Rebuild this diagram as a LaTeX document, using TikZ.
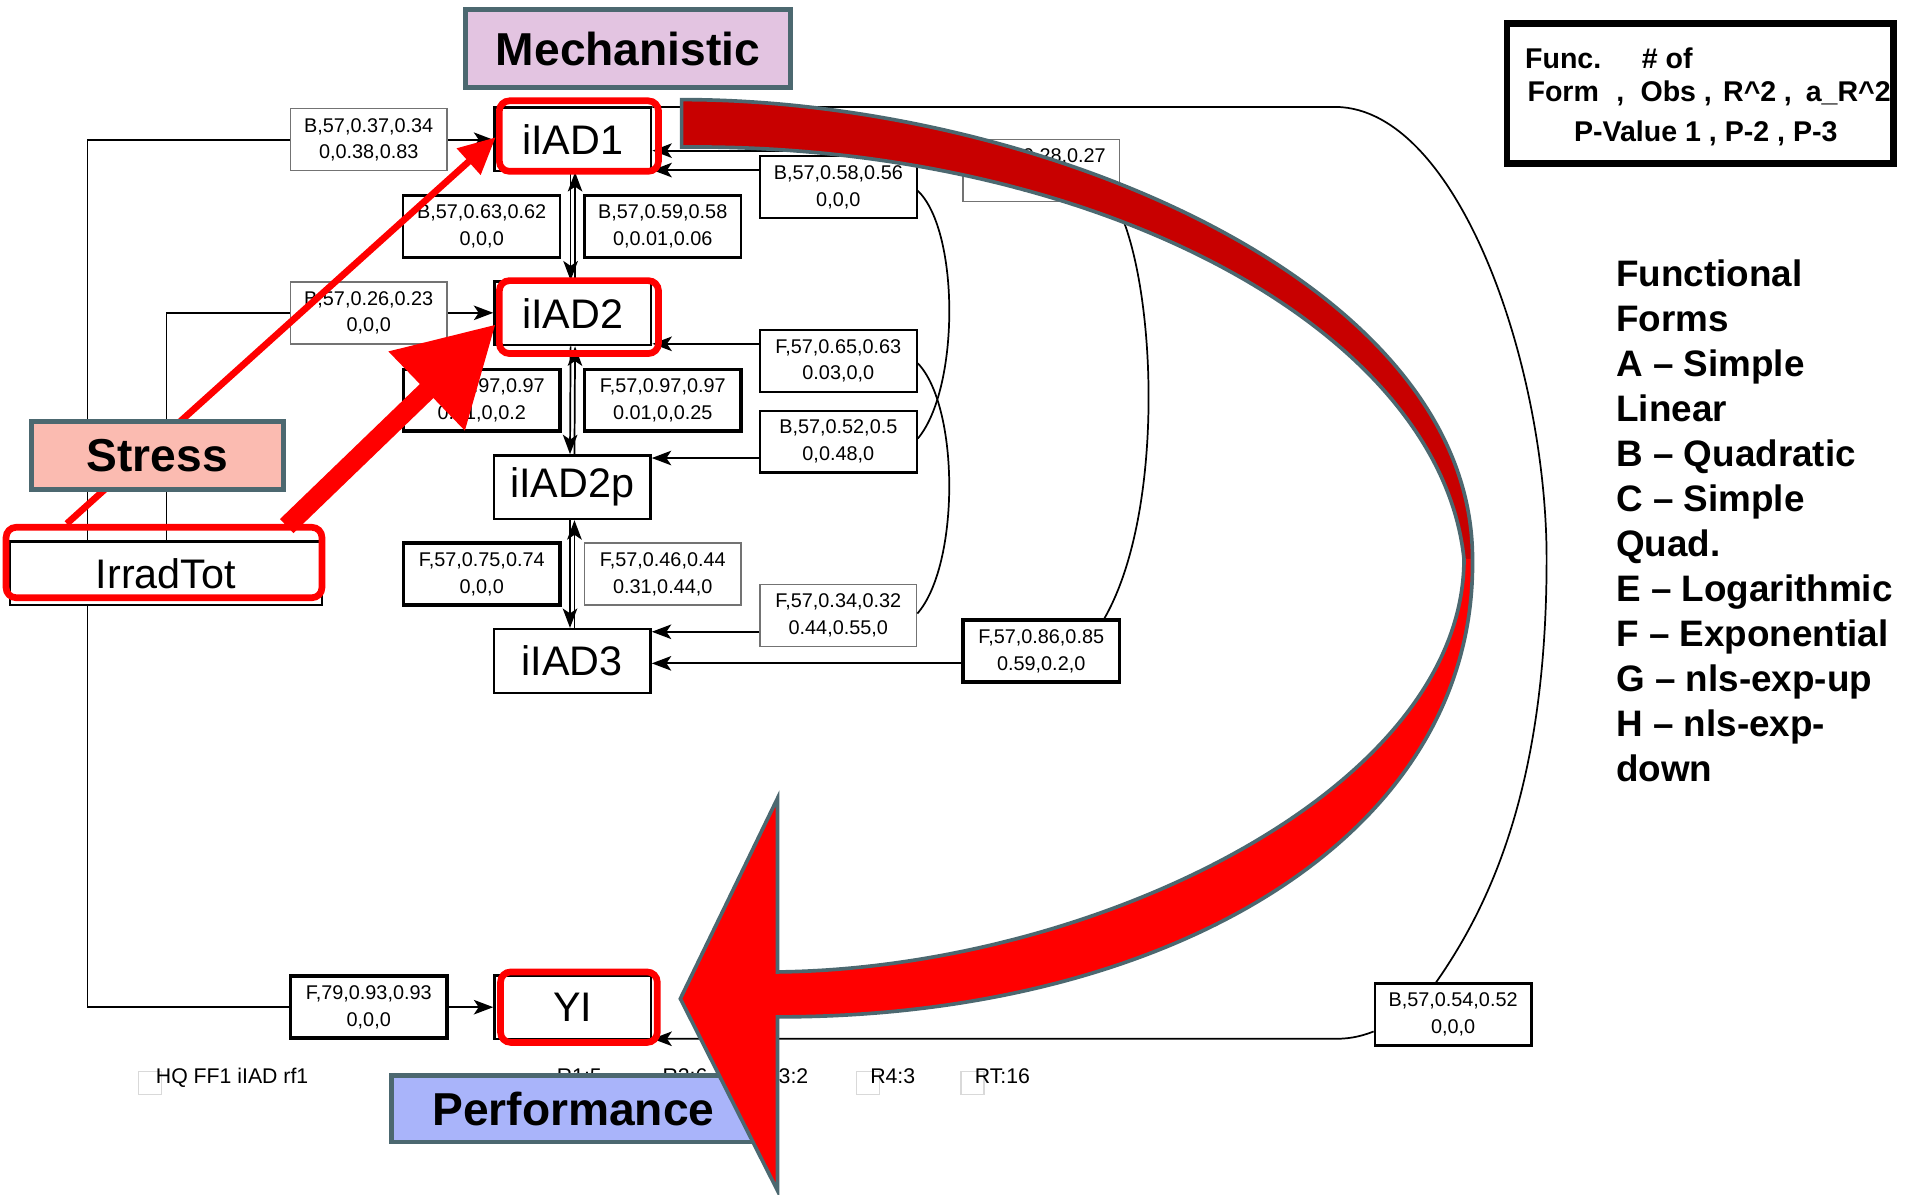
\documentclass[tikz,border=0pt]{standalone}
\usepackage{fontspec}
\setmainfont{Liberation Sans}
\usetikzlibrary{arrows.meta}
\definecolor{slate}{HTML}{4C6870}
\definecolor{mechfill}{HTML}{E3C4E1}
\definecolor{stressfill}{HTML}{FBBBB1}
\definecolor{perffill}{HTML}{A9B4FA}
\definecolor{darkred}{HTML}{C80000}
\definecolor{brightred}{HTML}{FF0000}

\begin{document}
\begin{tikzpicture}[x=0.6pt,y=-0.6pt,
  gvnode/.style={draw, fill=white, line width=1.2pt, inner sep=0pt,
    minimum width=77.4pt, minimum height=31.4pt, font=\fontsize{20.4}{22}\selectfont},
  lblbase/.style={fill=white, inner sep=0pt, minimum width=77.4pt, minimum height=30.6pt,
    align=center, font=\fontsize{9.8}{13.2}\selectfont},
  lthin/.style={lblbase, draw=black!55, line width=0.7pt},
  lmed/.style={lblbase, draw, line width=1.1pt},
  lthick/.style={lblbase, draw, line width=1.8pt},
  conn/.style={line width=0.85pt},
  arr/.style={-{Stealth[length=9.6pt,width=7.2pt,inset=2.4pt]}},
  hilite/.style={draw=brightred, line width=3.3pt, rounded corners=5pt},
  tagbox/.style={draw=slate, line width=2.4pt, inner sep=0pt,
    font=\bfseries\fontsize{22.8}{26}\selectfont},
  foot/.style={inner sep=0pt, anchor=base west, font=\fontsize{10.5}{12}\selectfont},
  keytxt/.style={inner sep=0pt, anchor=base west, font=\bfseries\fontsize{14.1}{16}\selectfont},
  legtxt/.style={inner sep=0pt, anchor=base west, font=\bfseries\fontsize{18.2}{20}\selectfont},
]
\useasboundingbox (0,0) rectangle (1568,983);
\fill[white] (0,0) rectangle (1568,983);

% ---------- model nodes ----------
\node[gvnode] (iLAD1) at (471.5,114.5) {iIAD1};
\node[gvnode] (iLAD2) at (471.5,258) {iIAD2};
\node[gvnode] (iLAD2p) at (471,401) {iIAD2p};
\node[gvnode] (iLAD3) at (471,544) {iIAD3};
\node[gvnode, minimum width=154.2pt] (IrradTot) at (136.5,472) {IrradTot};
\node[gvnode] (YI) at (471.5,829) {YI};

% ---------- fit labels ----------
\node[lthin]  (lA) at (303.5,115)   {B,57,0.37,0.34\\0,0.38,0.83};
\node[lthin]  (lB) at (303.5,257.5) {B,57,0.26,0.23\\0,0,0};
\node[lmed]   (lC) at (396.5,186.5) {B,57,0.63,0.62\\0,0,0};
\node[lmed]   (lD) at (545.5,186.5) {B,57,0.59,0.58\\0,0.01,0.06};
\node[lthick] (lE) at (396.5,329.5) {F,57,0.97,0.97\\0.01,0,0.2};
\node[lthick] (lF) at (545.5,329.5) {F,57,0.97,0.97\\0.01,0,0.25};
\node[lthick] (lG) at (396.5,472.5) {F,57,0.75,0.74\\0,0,0};
\node[lthin]  (lH) at (545.5,472.5) {F,57,0.46,0.44\\0.31,0.44,0};
\node[lmed]   (lI) at (690,154)     {B,57,0.58,0.56\\0,0,0};
\node[lmed]   (lJ) at (690,297)     {F,57,0.65,0.63\\0.03,0,0};
\node[lmed]   (lK) at (690,363.5)   {B,57,0.52,0.5\\0,0.48,0};
\node[lthin]  (lL) at (690,506.5)   {F,57,0.34,0.32\\0.44,0.55,0};
\node[lthin]  (lM) at (857,140.5)   {B,57,0.28,0.27\\0,0.1,0};
\node[lthick] (lN) at (857,536)     {F,57,0.86,0.85\\0.59,0.2,0};
\node[lmed]   (lO) at (1196,835)    {B,57,0.54,0.52\\0,0,0};
\node[lthick] (lP) at (303.5,829)   {F,79,0.93,0.93\\0,0,0};

% ---------- connectors ----------
\coordinate (xa) at (72,0);
\coordinate (xb) at (137,0);
\draw[conn] (IrradTot.north -| xa) |- (lA.west);
\draw[conn,arr] (lA.east) -- (lA.east -| iLAD1.west);
\draw[conn] (IrradTot.north -| xb) |- (lB.west);
\draw[conn,arr] (lB.east) -- (lB.east -| iLAD2.west);
\draw[conn] (IrradTot.south -| xa) |- (lP.west);
\draw[conn,arr] (lP.east) -- (lP.east -| YI.west);

\draw[conn,arr] ([xshift=-1.1pt]iLAD1.south) -- ([xshift=-1.1pt]iLAD2.north);
\draw[conn,arr] ([xshift=1.1pt]iLAD2.north) -- ([xshift=1.1pt]iLAD1.south);
\draw[conn,arr] ([xshift=-1.1pt]iLAD2.south) -- ([xshift=-1.1pt]iLAD2p.north);
\draw[conn,arr] ([xshift=1.1pt]iLAD2p.north) -- ([xshift=1.1pt]iLAD2.south);
\draw[conn,arr] ([xshift=-1.1pt]iLAD2p.south) -- ([xshift=-1.1pt]iLAD3.north);
\draw[conn,arr] ([xshift=1.1pt]iLAD3.north) -- ([xshift=1.1pt]iLAD2p.south);

\draw[conn,arr] (lI.west |- 0,140) -- (iLAD1.east |- 0,140);
\draw[conn] (lI.east |- 0,157) .. controls (790,190) and (790,320) .. (lK.east |- 0,361);
\draw[conn,arr] (lK.west |- 0,377) -- (iLAD2p.east |- 0,377);
\draw[conn,arr] (lJ.west |- 0,283) -- (iLAD2.east |- 0,283);
\draw[conn] (lJ.east |- 0,299) .. controls (790,335) and (790,465) .. (lL.east |- 0,505);
\draw[conn,arr] (lL.west |- 0,520) -- (iLAD3.east |- 0,520);
\draw[conn,arr] (lM.west |- 0,124) -- (iLAD1.east |- 0,124);
\draw[conn] (lM.south -| 918,0) .. controls (952,230) and (960,420) .. (lN.north -| 909,0);
\draw[conn,arr] (lN.west |- 0,546) -- (iLAD3.east |- 0,546);
\draw[conn] (iLAD1.east |- 0,88) -- (1100,88)
  .. controls (1200,90) and (1273,300) .. (1273,460)
  .. controls (1273,640) and (1230,740) .. (lO.north -| 1182,0);
\draw[conn,arr] (lO.west |- 0,849) .. controls (1118,854) and (1108,855) .. (1100,855)
  -- (YI.east |- 0,855);

% ---------- footer ----------
\draw[gray!30, line width=0.6pt] (114,882) rectangle (133,901);
\draw[gray!30, line width=0.6pt] (705,882) rectangle (724,901);
\draw[gray!30, line width=0.6pt] (791,882) rectangle (810,901);
\node[foot] (hq) at (128,891.5) {HQ FF1 iIAD rf1};
\node[foot] (r1) at (458,891.5) {R1:5};
\node[foot] (r2) at (545,891.5) {R2:6};
\node[foot] (r3) at (628,891.5) {R3:2};
\node[foot] (r4) at (716,891.5) {R4:3};
\node[foot] (rt) at (802,891.5) {RT:16};

% ---------- highlights ----------
\draw[hilite] (411,83) rectangle (542,141);
\draw[hilite] (411,231) rectangle (542,291);
\draw[hilite] (5,434) rectangle (265,492);
\draw[hilite] (412,800) rectangle (541,858);

\draw[line width=3.3pt, draw=brightred, -{Triangle[length=18pt,width=16.8pt]}] (55,431) -- (408,113);
\draw[line width=9.6pt, draw=brightred, -{Triangle[length=47.4pt,width=51.6pt]}] (236,433) -- (408,267);

% ---------- category tags ----------
\node[tagbox, fill=mechfill, minimum width=160.8pt, minimum height=38.4pt] (mech) at (517,40) {Mechanistic};
\node[tagbox, fill=stressfill, minimum width=124.2pt, minimum height=33.6pt] (stress) at (129.5,375) {Stress};
\node[tagbox, fill=perffill, minimum width=180pt, minimum height=33pt] (perf) at (472,912.5) {Performance};

% ---------- big curved arrow ----------
\fill[darkred] (561,82) .. controls (850,82) and (1212,230) .. (1212,460) -- (1205,460)
  .. controls (1185,270) and (900,118) .. (561,121) -- cycle;
\fill[brightred] (1212,460) .. controls (1215,690) and (960,837) .. (640,837)
  -- (640,980) -- (560,822) -- (640,657) -- (640,800)
  .. controls (900,797) and (1205,650) .. (1205,460) -- cycle;
\draw[slate, line width=1.8pt] (561,82) .. controls (850,82) and (1212,230) .. (1212,460)
  .. controls (1215,690) and (960,837) .. (640,837)
  -- (640,980) -- (560,822) -- (640,657) -- (640,800)
  .. controls (900,797) and (1205,650) .. (1205,460)
  .. controls (1185,270) and (900,118) .. (561,121) -- cycle;

% ---------- key box ----------
\node[draw, line width=3.3pt, minimum width=190.8pt, minimum height=69pt, inner sep=0pt] (keybox) at (1399.5,77) {};
\node[keytxt] (k1) at (1255,56) {Func.};
\node[keytxt] (k2) at (1351,56) {\# of};
\node[keytxt] (k3) at (1257,83.7) {Form};
\node[keytxt] (k4) at (1330,83.7) {,};
\node[keytxt] (k5) at (1350,83.7) {Obs};
\node[keytxt] (k6) at (1402,83.7) {,};
\node[keytxt] (k7) at (1418,83.7) {R\textasciicircum 2};
\node[keytxt] (k8) at (1468,83.7) {,};
\node[keytxt] (k9) at (1486,83.7) {a\textunderscore R\textasciicircum 2};
\node[keytxt, anchor=base] (k10) at (1404,116.6) {P-Value 1 ,  P-2 ,  P-3};

% ---------- functional forms ----------
\foreach \t [count=\i from 0] in {Functional, Forms, A -- Simple, Linear, B -- Quadratic,
    C -- Simple, Quad., E -- Logarithmic, F -- Exponential, G -- nls-exp-up, H -- nls-exp-, down}
  {\node[legtxt] (f\i) at (1330,{236+37*\i}) {\t};}
\end{tikzpicture}
\end{document}
